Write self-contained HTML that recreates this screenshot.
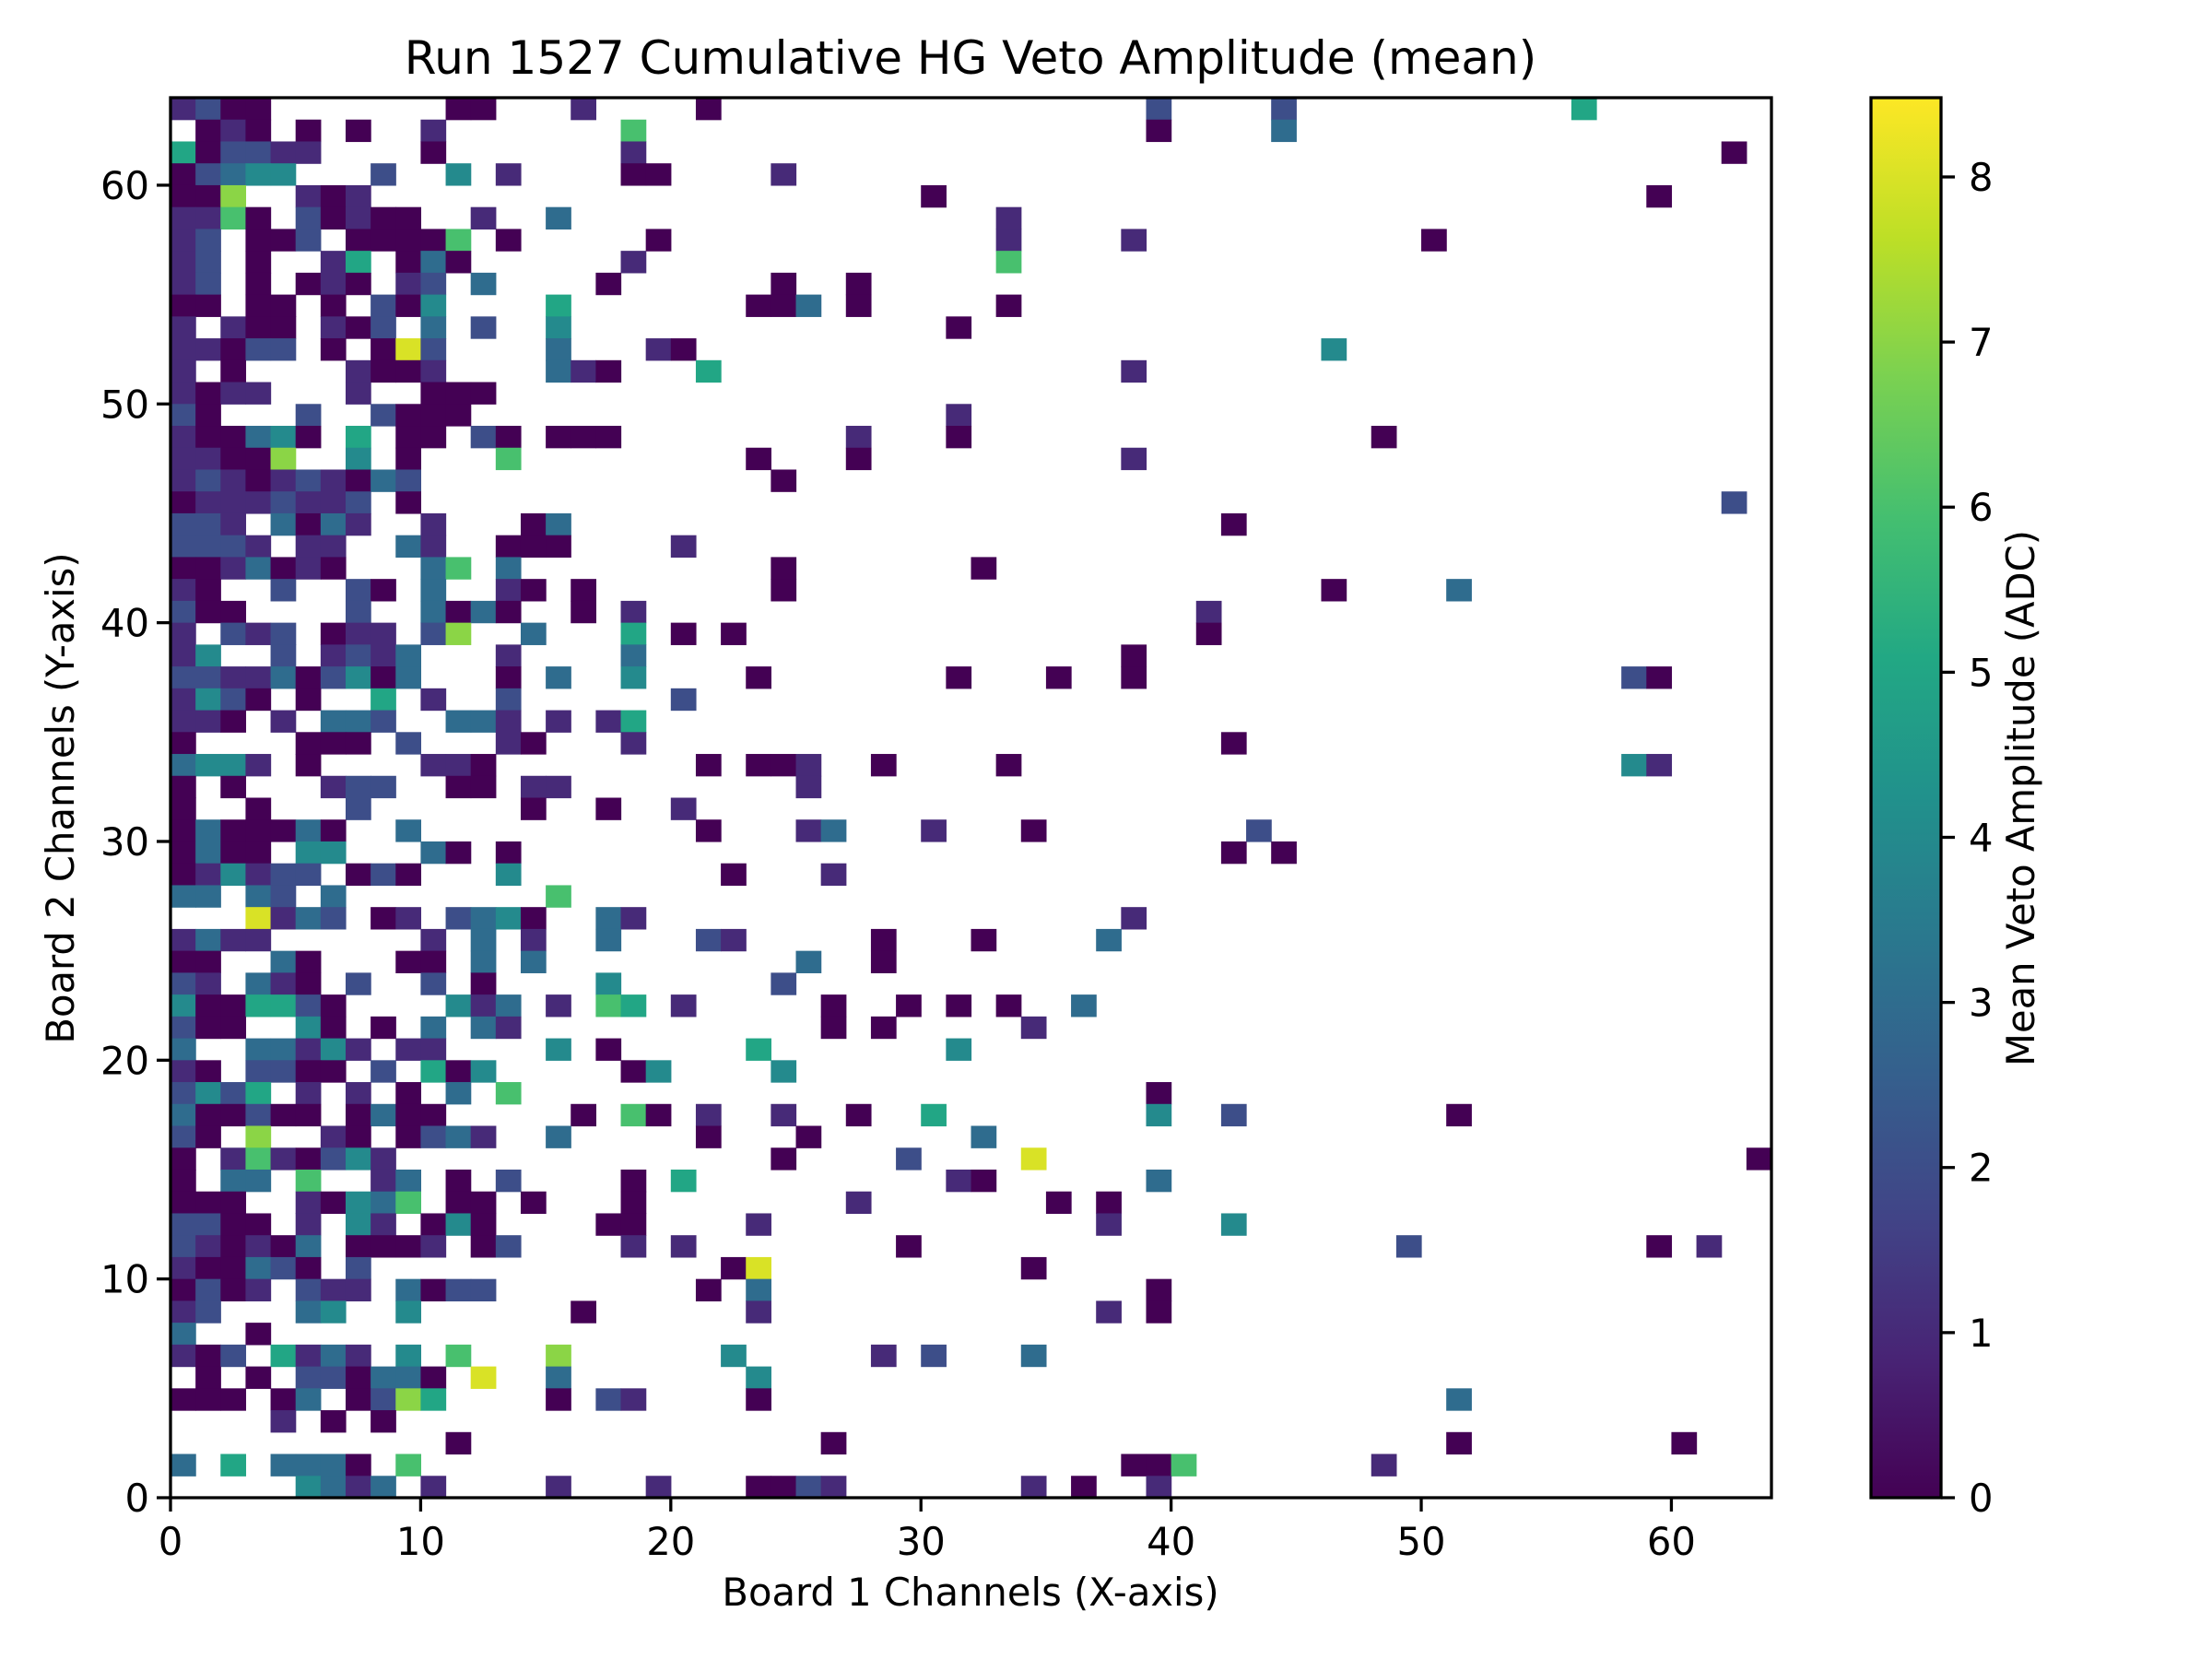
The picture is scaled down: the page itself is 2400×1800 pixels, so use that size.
<!DOCTYPE html>
<html><head><meta charset="utf-8"><style>
html,body{margin:0;padding:0;background:#fff;}
svg{display:block;font-family:"DejaVu Sans","Liberation Sans",sans-serif;}
</style></head><body>
<svg id="chart" width="2400" height="1800" viewBox="0 0 2400 1800" xmlns="http://www.w3.org/2000/svg">
<defs>
<linearGradient id="viridis" x1="0" y1="1" x2="0" y2="0">
<stop offset="0" stop-color="#440154"/><stop offset="0.1" stop-color="#482475"/><stop offset="0.2" stop-color="#414487"/><stop offset="0.3" stop-color="#355f8d"/><stop offset="0.4" stop-color="#2a788e"/><stop offset="0.5" stop-color="#21918c"/><stop offset="0.6" stop-color="#22a884"/><stop offset="0.7" stop-color="#44bf70"/><stop offset="0.8" stop-color="#7ad151"/><stop offset="0.9" stop-color="#bddf26"/><stop offset="1" stop-color="#fde725"/>
</linearGradient>
</defs>
<text x="1053" y="80" font-size="50" text-anchor="middle">Run 1527 Cumulative HG Veto Amplitude (mean)</text>
<g id="cells"></g>
<g id="axes"></g>
<text x="1053" y="1742" font-size="41.7" text-anchor="middle">Board 1 Channels (X-axis)</text>
<text transform="translate(80,866) rotate(-90)" font-size="41.7" text-anchor="middle">Board 2 Channels (Y-axis)</text>
<rect x="2030" y="106" width="76" height="1519" fill="url(#viridis)"/>
<rect x="2030" y="106" width="76" height="1519" fill="none" stroke="#000" stroke-width="3.3"/>
<g id="cbticks"></g>
<text transform="translate(2207,866) rotate(-90)" font-size="41.7" text-anchor="middle">Mean Veto Amplitude (ADC)</text>
</svg>
<script>
// Columns 0-20, rows 63 down to 0; digit = mean amplitude, '.' = empty
const leftRows = [
"1200.......00...1....",
".010.0.0..1.......6..",
"502211....0.......1..",
"02344...2..4.1....00.",
"007..101.............",
"1160.20100..1..3.....",
"12.002.00006.0.....0.",
"12.0..15.030......1..",
"12.0.010.12.3....0...",
"00.00.0.204....5.....",
"1.100.102.3.2..4.....",
"11022.0.082....3...10",
"1.0....1001....310...",
"1011...1..000........",
"20...2..2000.........",
"100340.5.00.20.000...",
"11007..4.0...6.......",
"1210121032...........",
"01112112.0...........",
"221.3031..1...03.....",
"2221.11..31..000....1",
"0013010...36.3.......",
"10..2..20.3..10.0....",
"200....2..3030..0.1..",
"1.212.011.27..3...5.0",
"14..2.1213...1....3..",
"2211302403...0.3..4..",
"1420.0..5.1..2......2",
"110.1.332..331.1.15..",
"0....000.2...10...1..",
"3441.0....110........",
"0.0...122..00.11.....",
"0..0...2......0..0..1",
"0300030..3...........",
"0300.44...30.0.......",
"014122.020...4.......",
"33.32.3........6.....",
"...8132.01.2340..31..",
"1311......1.3.1..3...",
"00..30...00.3.3......",
"21.310.2..2.0....4...",
"4005520....413.1.65.1",
"200..40.0.3.31.......",
"3..33141.11....4.0...",
"10.2200.2.504.....04.",
"2425.1.1.0.3.6.......",
"300200.0300.....0.60.",
"20.7..10.0231..3.....",
"0.1610241............",
"0.33.6..13.0.2....0.5",
"000..10436.00.0...0..",
"2200.1.41.040....00..",
"210103.0001.02....1.1",
"100320.2.............",
"0201.211.3022........",
"12...34..4......0....",
"3..0.................",
"102.5131.4.6...7.....",
".0.0.220330.8..3.....",
"000.03.0275....0.21..",
"....1.0.0............",
"...........0.........",
"3.5.3330.6...........",
".....4313.1....1...1."
];
const sparseX = [21,39,44,56,39,44,62,24,30,59,33,33,38,50,33,24,27,23,24,25,27,33,31,46,21,38,31,27,31,48,23,27,38,24,62,42,24,32,24,46,51,41,22,41,38,23,31,35,38,58,59,42,21,23,24,25,28,33,58,59,25,21,25,26,30,34,43,42,44,22,26,38,21,22,28,32,37,25,28,24,26,29,31,33,36,26,28,34,23,31,24,39,21,24,27,30,39,42,51,21,25,32,24,29,34,63,31,32,39,27,35,37,23,37,42,29,49,59,61,22,23,34,21,23,39,23,37,39,22,28,30,34,23,23,51,26,51,60,38,39,40,48,23,24,25,26,34,36,39];
const sparseY = [63,63,63,63,62,62,61,60,59,59,58,57,57,57,56,55,55,54,54,54,54,54,53,52,51,51,49,48,48,48,47,47,47,46,45,44,42,42,41,41,41,40,39,39,38,37,37,37,37,37,37,34,33,33,33,33,33,33,33,33,32,30,30,30,30,30,30,29,29,28,28,26,25,25,25,25,25,24,24,23,22,22,22,22,22,21,21,21,20,20,19,18,17,17,17,17,17,17,17,16,16,16,15,15,15,15,14,14,14,13,13,13,12,12,12,11,11,11,11,10,10,10,9,9,9,8,8,8,6,6,6,6,5,4,4,2,2,2,1,1,1,1,0,0,0,0,0,0,0];
const sparseV = [0,2,2,5,0,3,0,1,0,0,1,1,1,0,6,0,0,0,0,3,0,0,0,4,5,1,1,1,0,0,0,0,1,0,2,0,0,0,0,0,3,1,0,0,0,0,0,0,0,2,0,0,0,0,0,1,0,0,4,1,1,0,1,3,1,0,2,0,0,0,1,1,2,1,0,0,3,3,0,2,0,0,0,0,3,0,0,1,5,4,4,0,1,1,0,5,4,2,0,0,0,3,0,2,8,0,1,0,3,1,0,0,1,1,4,0,2,0,1,0,8,0,0,3,0,1,1,0,4,1,2,3,4,0,3,0,0,0,0,0,6,1,0,0,2,1,1,0,1];
const xTicks = [0,10,20,30,40,50,60];
const yTicks = [0,10,20,30,40,50,60];
const cbTicks = [0,1,2,3,4,5,6,7,8];

const NS = "http://www.w3.org/2000/svg";
const PL = 185, PR = 1922, PT = 106, PB = 1625, N = 64, VMAX = 8.48;
const CB_L = 2030, CB_R = 2106;
function xPix(c){ return PL + c * (PR - PL) / N; }
function yPix(r){ return PB - r * (PB - PT) / N; }
function cbY(v){ return PB - v / VMAX * (PB - PT); }
const stops = ["#440154","#482475","#414487","#355f8d","#2a788e","#21918c","#22a884","#44bf70","#7ad151","#bddf26","#fde725"];
function hex(h){ return [1,3,5].map(i => parseInt(h.substr(i,2),16)); }
function viridis(v){
  let t = Math.max(0, Math.min(1, v / VMAX)) * 10;
  let i = Math.min(9, Math.floor(t)), f = t - i;
  const a = hex(stops[i]), b = hex(stops[i+1]);
  return "rgb(" + a.map((x,k) => Math.round(x + (b[k]-x)*f)).join(",") + ")";
}
function mk(tag, attrs, parent){
  const el = document.createElementNS(NS, tag);
  for (const k in attrs) el.setAttribute(k, attrs[k]);
  parent.appendChild(el);
  return el;
}
const cells = document.getElementById("cells");
const cw = (PR - PL) / N, ch = (PB - PT) / N;
function addCell(c, r, v){
  const el = mk("rect", {x: xPix(c), y: yPix(r + 1), width: cw + 0.6, height: ch + 0.6, fill: viridis(v)}, cells);
  
  
}
leftRows.forEach((row, i) => {
  const r = 63 - i;
  for (let c = 0; c < row.length; c++) {
    if (row[c] !== ".") addCell(c, r, +row[c]);
  }
});
for (let i = 0; i < sparseX.length; i++) addCell(sparseX[i], sparseY[i], sparseV[i]);

const axes = document.getElementById("axes");
const frame = mk("rect", {x: PL, y: PT, width: PR - PL, height: PB - PT, fill: "none", stroke: "#000", "stroke-width": 3.3}, axes);


xTicks.forEach(t => {
  const x = xPix(t);
  const ln = mk("line", {x1: x, y1: PB, x2: x, y2: PB + 15, stroke: "#000", "stroke-width": 3.3}, axes);
  
  
  const tx = mk("text", {x: x, y: 1687, "font-size": 41.7, "text-anchor": "middle"}, axes);
  tx.textContent = t;
  
  
});
yTicks.forEach(t => {
  const y = yPix(t);
  const ln = mk("line", {x1: PL - 15, y1: y, x2: PL, y2: y, stroke: "#000", "stroke-width": 3.3}, axes);
  
  
  const tx = mk("text", {x: 162, y: y + 15, "font-size": 41.7, "text-anchor": "end"}, axes);
  tx.textContent = t;
  
  
});
const cbg = document.getElementById("cbticks");
cbTicks.forEach(t => {
  const y = cbY(t);
  const ln = mk("line", {x1: CB_R, y1: y, x2: CB_R + 15, y2: y, stroke: "#000", "stroke-width": 3.3}, cbg);
  
  
  const tx = mk("text", {x: 2136, y: y + 15, "font-size": 41.7}, cbg);
  tx.textContent = t;
  
  
});
</script>
</body></html>
